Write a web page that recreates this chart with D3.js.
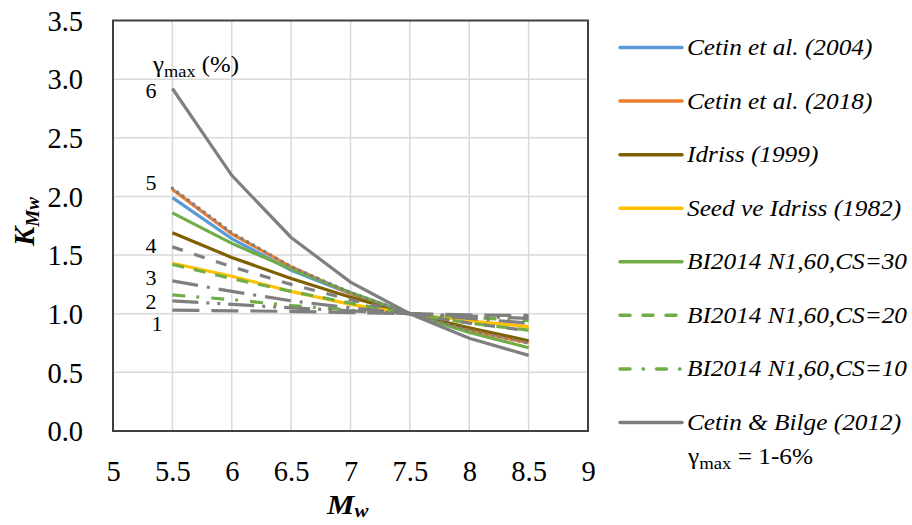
<!DOCTYPE html>
<html>
<head>
<meta charset="utf-8">
<script src="https://cdn.jsdelivr.net/npm/d3@7"></script>
<style>
  html, body { margin: 0; padding: 0; background: #fff; }
  svg { display: block; }
  text { font-family: "Liberation Serif", "Times New Roman", serif; fill: #000; }
</style>
</head>
<body>
<svg id="chart" width="912" height="525"></svg>
<script>
// Magnitude scaling factor K_Mw versus moment magnitude M_w
const magnitudes = [5.5, 6, 6.5, 7, 7.5, 8, 8.5];

const cetin2004      = [1.99, 1.64, 1.37, 1.17, 1.00, 0.87, 0.76];
const cetin2018      = [2.06, 1.68, 1.40, 1.17, 1.00, 0.86, 0.75];
const idriss1999     = [1.69, 1.48, 1.30, 1.14, 1.00, 0.88, 0.77];
const seedIdriss1982 = [1.43, 1.32, 1.19, 1.08, 1.00, 0.94, 0.89];
const bi2014cs30     = [1.86, 1.60, 1.38, 1.18, 1.00, 0.84, 0.71];
const bi2014cs20     = [1.42, 1.30, 1.19, 1.09, 1.00, 0.92, 0.86];
const bi2014cs10     = [1.16, 1.12, 1.07, 1.03, 1.00, 0.97, 0.94];

// Cetin & Bilge (2012), one curve per maximum shear strain (%)
const gammaLevels = [1, 2, 3, 4, 5, 6];
const cetinBilgeG1 = [1.03, 1.025, 1.02, 1.01, 1.00, 0.99, 0.985];
const cetinBilgeG2 = [1.11, 1.08, 1.05, 1.025, 1.00, 0.98, 0.96];
const cetinBilgeG3 = [1.28, 1.19, 1.11, 1.05, 1.00, 0.96, 0.92];
const cetinBilgeG4 = [1.57, 1.40, 1.25, 1.12, 1.00, 0.92, 0.855];
const cetinBilgeG5 = [2.07, 1.69, 1.40, 1.18, 1.00, 0.86, 0.75];
const cetinBilgeG6 = [2.92, 2.18, 1.65, 1.27, 1.00, 0.79, 0.645];

const xTicks = [5, 5.5, 6, 6.5, 7, 7.5, 8, 8.5, 9];
const yTicks = [0, 0.5, 1, 1.5, 2, 2.5, 3, 3.5];

const legendLabels = [
  "Cetin et al. (2004)", "Cetin et al. (2018)", "Idriss (1999)",
  "Seed ve Idriss (1982)", "BI2014 N1,60,CS=30", "BI2014 N1,60,CS=20",
  "BI2014 N1,60,CS=10", "Cetin & Bilge (2012)"
];

const GRAY = "#7f7f7f";
const series = [
  { name: legendLabels[0], values: cetin2004,      color: "#5b9bd5", dash: null },
  { name: legendLabels[1], values: cetin2018,      color: "#ed7d31", dash: null },
  { name: legendLabels[2], values: idriss1999,     color: "#7f6000", dash: null },
  { name: legendLabels[3], values: seedIdriss1982, color: "#ffc000", dash: null },
  { name: legendLabels[4], values: bi2014cs30,     color: "#70ad47", dash: null },
  { name: legendLabels[5], values: bi2014cs20,     color: "#70ad47", dash: "12,10" },
  { name: legendLabels[6], values: bi2014cs10,     color: "#70ad47", dash: "13,11,3,12" }
];

const grayCurves = [
  { g: gammaLevels[0], values: cetinBilgeG1, dash: "27,12", cap: "butt" },
  { g: gammaLevels[1], values: cetinBilgeG2, dash: "26,8,3,8,3,8", cap: "butt" },
  { g: gammaLevels[2], values: cetinBilgeG3, dash: "26,9,3,9", cap: "butt" },
  { g: gammaLevels[3], values: cetinBilgeG4, dash: "11,12", cap: "butt" },
  { g: gammaLevels[4], values: cetinBilgeG5, dash: "0.1,6.5", cap: "round" },
  { g: gammaLevels[5], values: cetinBilgeG6, dash: null, cap: "butt" }
];

const svg = d3.select("#chart");
const plot = { left: 113, right: 588, top: 20.5, bottom: 431 };

const x = d3.scaleLinear().domain([5, 9]).range([plot.left, plot.right]);
const y = d3.scaleLinear().domain([0, 3.5]).range([plot.bottom, plot.top]);

// Gridlines
const grid = svg.append("g");
grid.selectAll("line.vx").data(xTicks.slice(1, -1)).join("line")
  .attr("x1", d => x(d)).attr("x2", d => x(d))
  .attr("y1", plot.top).attr("y2", plot.bottom)
  .attr("stroke", "#d9d9d9").attr("stroke-width", 1.5);
grid.selectAll("line.hy").data(yTicks.slice(1, -1)).join("line")
  .attr("x1", plot.left).attr("x2", plot.right)
  .attr("y1", d => y(d)).attr("y2", d => y(d))
  .attr("stroke", "#d9d9d9").attr("stroke-width", 1.5);

// Axes (labels only)
const xAxis = d3.axisBottom(x).tickValues(xTicks).tickSize(0).tickPadding(0)
  .tickFormat(d => d3.format("")(d));
svg.append("g").attr("transform", `translate(0,${plot.bottom})`).call(xAxis)
  .call(g => g.select(".domain").remove())
  .call(g => g.selectAll("text").attr("dy", null).attr("y", 50)
    .style("font-family", "Liberation Serif").style("font-size", "28.5px"));

const yAxis = d3.axisLeft(y).tickValues(yTicks).tickSize(0).tickPadding(0)
  .tickFormat(d3.format(".1f"));
svg.append("g").attr("transform", `translate(${plot.left},0)`).call(yAxis)
  .call(g => g.select(".domain").remove())
  .call(g => g.selectAll("text").attr("x", -30).attr("dy", "0.34em")
    .style("font-family", "Liberation Serif").style("font-size", "28.5px"));

// Curves
const line = d3.line().x((d, i) => x(magnitudes[i])).y(d => y(d));
const curves = svg.append("g").attr("fill", "none");

series.forEach(s => {
  curves.append("path").datum(s.values)
    .attr("d", line)
    .attr("stroke", s.color).attr("stroke-width", 3.2)
    .attr("stroke-dasharray", s.dash);
});
grayCurves.forEach(s => {
  curves.append("path").datum(s.values)
    .attr("d", line)
    .attr("stroke", GRAY).attr("stroke-width", s.cap === "round" ? 3.4 : 3.2)
    .attr("stroke-linecap", s.cap)
    .attr("stroke-dasharray", s.dash);
});

// Plot frame
svg.append("rect")
  .attr("x", plot.left).attr("y", plot.top)
  .attr("width", plot.right - plot.left).attr("height", plot.bottom - plot.top)
  .attr("fill", "none").attr("stroke", "#404040").attr("stroke-width", 2);

// Strain labels next to the Cetin & Bilge curves
const gammaLabelY = { 6: 98, 5: 190, 4: 253, 3: 285, 2: 309, 1: 331 };
const gammaLabelX = { 6: 151, 5: 151, 4: 151, 3: 151, 2: 151, 1: 157 };
svg.append("g").selectAll("text").data(grayCurves).join("text")
  .attr("x", d => gammaLabelX[d.g]).attr("y", d => gammaLabelY[d.g])
  .attr("text-anchor", "middle").style("font-size", "22px")
  .text(d => d.g);

const gTitle = svg.append("text").attr("transform", "translate(153,72) scale(1.08,1)")
  .style("font-size", "23px");
gTitle.append("tspan").text("γ");
gTitle.append("tspan").attr("dy", 5).style("font-size", "17px").text("max");
gTitle.append("tspan").attr("dy", -5).text(" (%)");

// Axis titles
const xt = svg.append("text").attr("transform", "translate(327,514) scale(1.1,1)")
  .style("font-size", "28px").style("font-weight", "bold").style("font-style", "italic");
xt.append("tspan").text("M");
xt.append("tspan").attr("dy", 3).style("font-size", "19px").text("w");

const yt = svg.append("text").attr("transform", "translate(34,246) rotate(-90)")
  .style("font-size", "29px").style("font-weight", "bold").style("font-style", "italic");
yt.append("tspan").text("K");
yt.append("tspan").attr("dy", 5).style("font-size", "19px").text("Mw");

// Legend
const legendItems = series.map(s => ({ name: s.name, color: s.color, dash: s.dash }))
  .concat([{ name: legendLabels[7], color: GRAY, dash: null }]);
const legendY = d3.scaleLinear().domain([0, 7]).range([47.5, 422.5]);
const lg = svg.append("g");
legendItems.forEach((d, i) => {
  const yy = legendY(i);
  lg.append("line")
    .attr("x1", 620).attr("x2", 682).attr("y1", yy).attr("y2", yy)
    .attr("stroke", d.color).attr("stroke-width", 3.5)
    .attr("stroke-linecap", "round")
    .attr("stroke-dasharray", d.dash ? (i === 5 ? "10,13" : "10,13,0.5,13") : null);
  lg.append("text").attr("transform", `translate(687,${yy + 7.5}) scale(1.1,1)`)
    .style("font-size", "23px").style("font-style", "italic")
    .text(d.name);
});
const gNote = lg.append("text").attr("transform", "translate(688,464) scale(1.1,1)")
  .style("font-size", "23px");
gNote.append("tspan").text("γ");
gNote.append("tspan").attr("dy", 5).style("font-size", "17px").text("max");
gNote.append("tspan").attr("dy", -5).text(" = 1-6%");
</script>
</body>
</html>
